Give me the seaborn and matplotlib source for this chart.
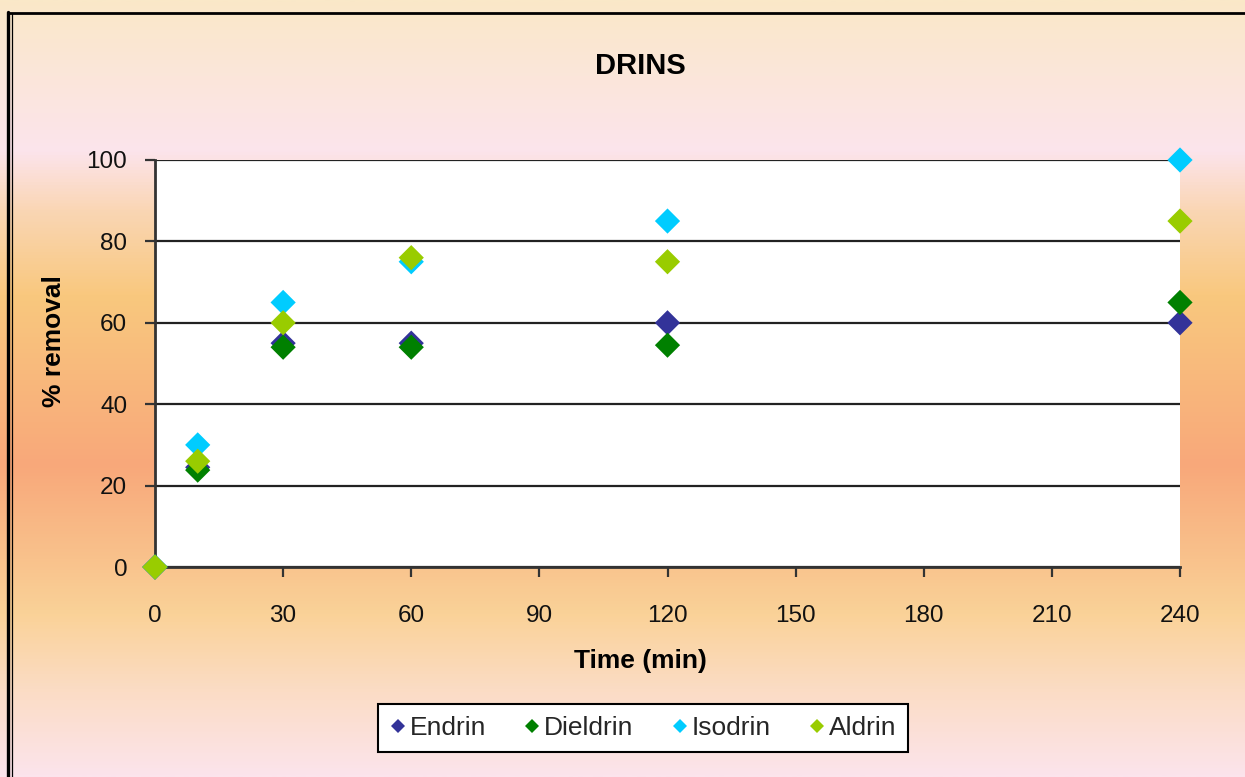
import numpy as np
import pandas as pd
import matplotlib
matplotlib.use("Agg")
import matplotlib.pyplot as plt
from matplotlib.colors import LinearSegmentedColormap
from matplotlib.lines import Line2D
import seaborn as sns

# Removal (%) of each drin compound over time
time_min = [0, 10, 30, 60, 120, 240]
endrin = [0, 24.5, 55, 55, 60, 60]
dieldrin = [0, 23.8, 54, 54, 54.5, 65]
isodrin = [0, 30, 65, 75, 85, 100]
aldrin = [0, 26, 60, 76, 75, 85]

compounds = ["Endrin", "Dieldrin", "Isodrin", "Aldrin"]
colors = ["#333399", "#008000", "#00CCFF", "#99CC00"]
x_ticks = [0, 30, 60, 90, 120, 150, 180, 210, 240]
y_ticks = [0, 20, 40, 60, 80, 100]

df = pd.DataFrame({
    "Time": time_min * len(compounds),
    "Removal": endrin + dieldrin + isodrin + aldrin,
    "Compound": np.repeat(compounds, len(time_min)),
})

sns.set_theme(style="white")
plt.rcParams["font.family"] = ["Liberation Sans", "DejaVu Sans"]

W, H = 1245, 777
fig = plt.figure(figsize=(W / 100, H / 100), dpi=100)

# vertical gradient backdrop
bg = fig.add_axes([0, 0, 1, 1], zorder=-10)
stops = [
    (0.00, "#FAE8C8"),
    (150 / H, "#FCE4EC"),
    (210 / H, "#FAD6B4"),
    (295 / H, "#F9C87E"),
    (465 / H, "#F8A87A"),
    (560 / H, "#F9C28C"),
    (615 / H, "#FAD298"),
    (690 / H, "#FBDCC4"),
    (1.00, "#FCE4EC"),
]
cmap = LinearSegmentedColormap.from_list("backdrop", stops)
grad = np.linspace(0, 1, 512)[:, None]
bg.imshow(grad, cmap=cmap, aspect="auto", extent=(0, 1, 0, 1), origin="upper")
bg.set_xlim(0, 1)
bg.set_ylim(0, 1)
bg.axis("off")

# outer frame (double rule on the left, single on top)
fig.add_artist(Line2D([8 / W, 8 / W], [0, 1 - 12 / H], transform=fig.transFigure,
                      color="black", lw=2.4))
fig.add_artist(Line2D([11.5 / W, 11.5 / W], [0, 1 - 14 / H], transform=fig.transFigure,
                      color="black", lw=0.9))
fig.add_artist(Line2D([8 / W, 1], [1 - 12.5 / H, 1 - 12.5 / H], transform=fig.transFigure,
                      color="black", lw=2.0))

left, right, top, bottom = 155, 1180, 160, 567
ax = fig.add_axes([left / W, 1 - bottom / H, (right - left) / W, (bottom - top) / H])
ax.set_facecolor("white")

sns.scatterplot(data=df, x="Time", y="Removal", hue="Compound", hue_order=compounds,
                palette=colors, marker="D", s=165, linewidth=0, ax=ax, legend=False,
                clip_on=False, zorder=3)

ax.set_xlim(0, 240)
ax.set_ylim(0, 100)
ax.set_xticks(x_ticks)
ax.set_yticks(y_ticks)
ax.yaxis.grid(True, color="#222222", lw=1.6)
ax.xaxis.grid(False)
ax.set_axisbelow(True)
for side in ("top", "right"):
    ax.spines[side].set_visible(False)
for side in ("left", "bottom"):
    ax.spines[side].set_color("#333333")
    ax.spines[side].set_linewidth(2.0)
ax.tick_params(axis="both", direction="out", length=7, width=1.6, color="#333333",
               labelsize=17.5, labelcolor="#111111", left=True, bottom=True)
ax.tick_params(axis="y", pad=13)
ax.tick_params(axis="x", pad=20)
ax.set_xlabel("")
ax.set_ylabel("")

fig.text(640 / W, 1 - 66 / H, "DRINS", ha="center", va="center",
         fontsize=21, fontweight="bold", color="black")
fig.text(640 / W, 1 - 661 / H, "Time (min)", ha="center", va="center",
         fontsize=19, fontweight="bold", color="black")
fig.text(54 / W, 1 - 341 / H, "% removal", ha="center", va="center", rotation=90,
         fontsize=19, fontweight="bold", color="black")

handles = [Line2D([], [], marker="D", ls="", color=c, markersize=7.5, markeredgewidth=0)
           for c in colors]
leg = fig.legend(handles, compounds, loc="center", bbox_to_anchor=(643 / W, 1 - 728 / H),
                 ncol=4, frameon=True, fancybox=False, edgecolor="black", framealpha=1,
                 facecolor="white", fontsize=19, handlelength=0.6, handletextpad=0.15,
                 columnspacing=1.45, borderpad=0.45, borderaxespad=0)
leg.get_frame().set_linewidth(1.5)

fig.savefig("out.png", dpi=100)
